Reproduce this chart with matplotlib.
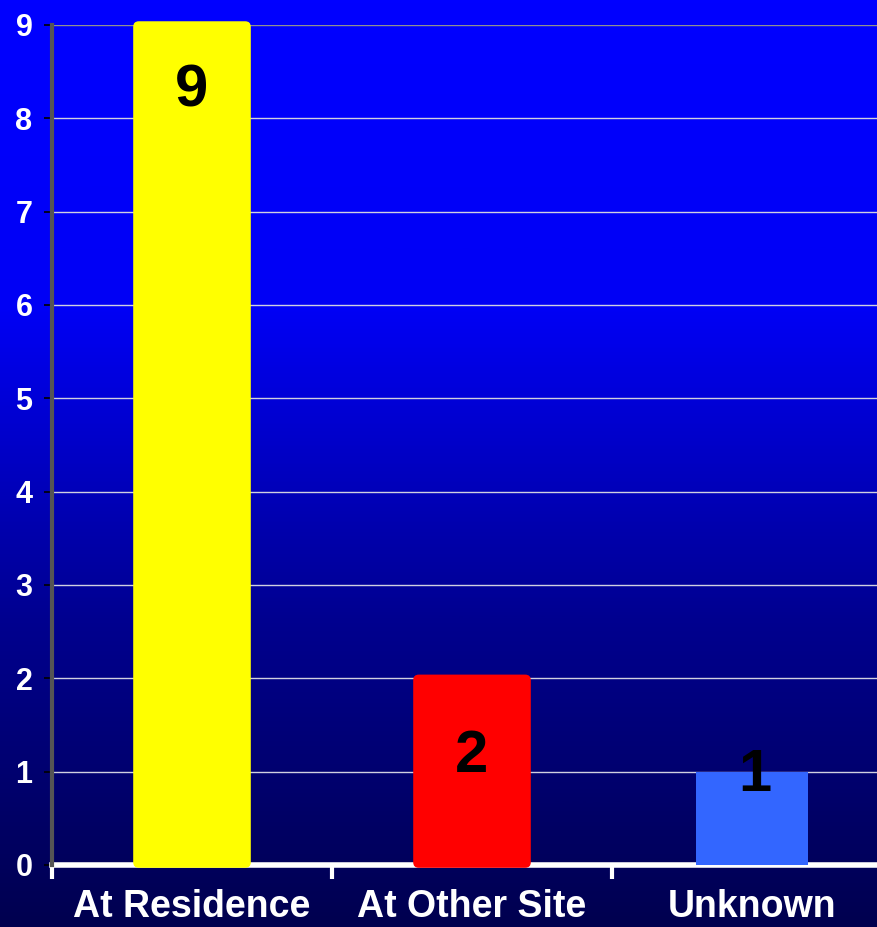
import numpy as np
import matplotlib
matplotlib.use("Agg")
import matplotlib.pyplot as plt
from matplotlib.colors import LinearSegmentedColormap
from matplotlib.patches import FancyBboxPatch

categories = ["At Residence", "At Other Site", "Unknown"]
values = [9, 2, 1]
bar_colors = ["#FFFF00", "#FF0000", "#3366FF"]
label_offsets = [-66, -78, -4]   # vertical offset of value labels, in pixels
y_ticks = list(range(0, 10))

plt.rcParams["font.family"] = ["Liberation Sans", "DejaVu Sans"]
plt.rcParams["font.weight"] = "bold"

W, H = 878, 927
fig = plt.figure(figsize=(W / 100, H / 100), dpi=100)

# gradient background
bg = fig.add_axes([0, 0, 1, 1], zorder=-10)
cmap = LinearSegmentedColormap.from_list("bg", ["#00004F", "#000090", "#0000F5", "#0000FF"])
grad = np.linspace(0, 1, 512).reshape(-1, 1)
bg.imshow(grad, aspect="auto", cmap=cmap, origin="lower", extent=[0, 1, 0, 1])
bg.set_axis_off()

ax = fig.add_axes([52 / W, 62 / H, 826 / W, 840 / H])
ax.patch.set_alpha(0)
ax.set_xlim(-0.5, 2.45)
ax.set_ylim(0, 9)

for y in y_ticks[1:]:
    ax.axhline(y, color="#D0D0E0" if y < 9 else "#909090", lw=1.0, zorder=1)

widths = [0.42, 0.42, 0.40]
for i, (v, c, w) in enumerate(zip(values, bar_colors, widths)):
    if i < 2:
        p = FancyBboxPatch((i - w / 2, -0.03), w, v + 0.07,
                           boxstyle="round,pad=0,rounding_size=0.02",
                           mutation_aspect=3.0, fc=c, ec="none", zorder=3,
                           clip_on=False)
        ax.add_patch(p)
    else:
        ax.bar(i, v, width=w, color=c, zorder=3)
    ax.annotate(str(v), (i + (0.01 if i == 2 else 0), v), xytext=(0, label_offsets[i] * 0.72),
                textcoords="offset points", ha="center", va="center",
                fontsize=43, fontweight="bold", color="black", zorder=5)

ax.set_yticks(y_ticks)
ax.set_yticklabels([str(t) for t in y_ticks], fontsize=22, color="white", fontweight="bold")
ax.tick_params(axis="y", length=6, width=1.2, color="black", pad=8)

ax.set_xticks([-0.5, 0.5, 1.5])
ax.set_xticklabels([])
ax.tick_params(axis="x", length=10, width=3, color="white", direction="out")
for i, cat in enumerate(categories):
    ax.annotate(cat, (i, 0), xytext=(0, -52 * 0.72), textcoords="offset points",
                ha="center", va="baseline", fontsize=27, fontweight="bold",
                color="white", annotation_clip=False)

for s in ["top", "right"]:
    ax.spines[s].set_visible(False)
ax.spines["left"].set_color("#555555")
ax.spines["left"].set_linewidth(3)
ax.spines["bottom"].set_color("white")
ax.spines["bottom"].set_linewidth(4)
ax.spines["bottom"].set_zorder(2)

fig.savefig("out.png", dpi=100)
